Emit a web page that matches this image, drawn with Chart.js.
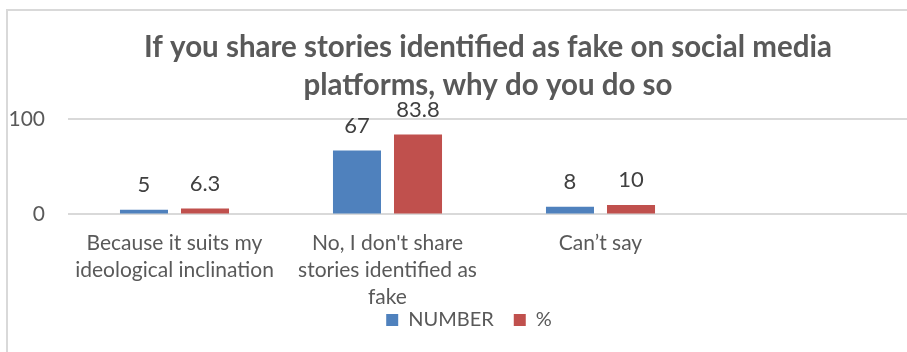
<!DOCTYPE html>
<html>
<head>
<meta charset="utf-8">
<script src="https://cdn.jsdelivr.net/npm/chart.js@4/dist/chart.umd.min.js"></script>
<style>
  html, body { margin: 0; padding: 0; background: #fff; overflow: hidden; }
  body { width: 907px; height: 352px; position: relative; }
  .frame {
    position: absolute; left: 6px; top: 9px; width: 1000px; height: 400px;
    border-left: 2px solid #d9d9d9; border-top: 2px solid #d9d9d9;
  }
  #chart { position: absolute; left: 8px; top: 11px; }
</style>
</head>
<body>
<div class="frame"></div>
<canvas id="chart" width="952" height="400"></canvas>
<script>
// Survey responses: reasons for sharing stories identified as fake
const categories = [
  ["Because it suits my", "ideological inclination"],
  ["No, I don't share", "stories identified as", "fake"],
  ["Can\u2019t say"],
  ""
];
const numberValues = [5, 67, 8, null];
const percentValues = [6.3, 83.8, 10, null];
const yTicks = [0, 100];

const textColor = '#595959';
const labelFont = 'Lato, "Open Sans", sans-serif';

// Value labels printed above each bar
const barValueLabels = {
  id: 'barValueLabels',
  afterDatasetsDraw(chart) {
    const ctx = chart.ctx;
    ctx.save();
    ctx.font = '22px ' + labelFont;
    ctx.fillStyle = '#404040';
    ctx.textAlign = 'center';
    ctx.textBaseline = 'alphabetic';
    chart.data.datasets.forEach((ds, i) => {
      chart.getDatasetMeta(i).data.forEach((bar, j) => {
        const v = ds.data[j];
        if (v === null || v === undefined) return;
        ctx.fillText(String(v), bar.x, bar.y - 17.5);
      });
    });
    ctx.restore();
  }
};

// Title centred over the whole frame; legend tucked up just under the category labels
const blockPlacement = {
  id: 'blockPlacement',
  afterLayout(chart) {
    if (chart.titleBlock) chart.titleBlock.left += 48;
    const lg = chart.legend;
    if (lg) {
      const h = lg.height;
      lg.top = 279;
      lg.bottom = 279 + h;
      lg.left += 10;
    }
  }
};

new Chart(document.getElementById('chart'), {
  type: 'bar',
  data: {
    labels: categories,
    datasets: [
      { label: 'NUMBER', data: numberValues, backgroundColor: '#4f81bd', borderWidth: 0 },
      { label: '%', data: percentValues, backgroundColor: '#c0504d', borderWidth: 0 }
    ]
  },
  options: {
    responsive: false,
    devicePixelRatio: 1,
    animation: false,
    categoryPercentage: 0.573,
    barPercentage: 0.787,
    layout: { padding: { left: 0, right: 40, top: 17, bottom: 34.5 } },
    scales: {
      x: {
        grid: { display: false, drawTicks: false },
        border: { display: false },
        ticks: {
          color: textColor,
          font: { family: labelFont, size: 21, lineHeight: 1.286 },
          padding: 15.5,
          maxRotation: 0,
          autoSkip: false
        },
        afterFit(scale) {
          // category labels may overhang the plot edges; keep the plot full width
          scale.paddingLeft = 0;
          scale.paddingRight = 0;
        }
      },
      y: {
        min: 0,
        max: 100,
        afterBuildTicks(scale) { scale.ticks = yTicks.map(v => ({ value: v })); },
        afterFit(scale) { scale.width = 60; },
        grid: { color: '#d9d9d9', lineWidth: 2, drawTicks: false },
        border: { display: false },
        ticks: {
          color: textColor,
          font: { family: labelFont, size: 21 },
          padding: 23
        }
      }
    },
    plugins: {
      title: {
        display: true,
        text: ['If you share stories identified as fake on social media', 'platforms, why do you do so'],
        color: textColor,
        font: { family: labelFont, size: 29.5, weight: 'bold', lineHeight: 1.29 },
        padding: { top: 0, bottom: 15 }
      },
      legend: {
        position: 'bottom',
        labels: {
          color: textColor,
          font: { family: labelFont, size: 20 },
          boxWidth: 12,
          boxHeight: 12,
          padding: 20
        }
      },
      tooltip: { enabled: false }
    }
  },
  plugins: [barValueLabels, blockPlacement]
});
</script>
</body>
</html>
